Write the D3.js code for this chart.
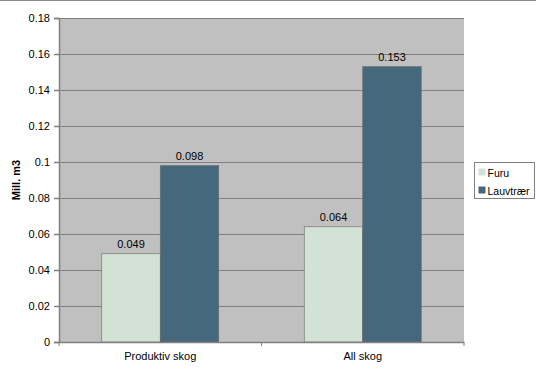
<!DOCTYPE html>
<html>
<head>
<meta charset="utf-8">
<script src="https://cdn.jsdelivr.net/npm/d3@7"></script>
<style>
  body { margin: 0; background: #fff; }
  text { font-family: "Liberation Sans", Arial, sans-serif; font-size: 11px; fill: #000; }
</style>
</head>
<body>
<div id="chart"></div>
<script>
var categories = ["Produktiv skog", "All skog"];
var seriesNames = ["Furu", "Lauvtrær"];
var furu = [0.049, 0.064];
var lauvtraer = [0.098, 0.153];
var yTicks = [0, 0.02, 0.04, 0.06, 0.08, 0.1, 0.12, 0.14, 0.16, 0.18];
var colors = ["#d2e2d4", "#46687c"];

var svgWidth = 536;
var svgHeight = 376;
var margin = { top: 18, right: 72, bottom: 34, left: 59 };
var chartWidth = svgWidth - margin.left - margin.right;
var chartHeight = svgHeight - margin.top - margin.bottom;

var svg = d3.select("#chart").append("svg")
  .attr("width", svgWidth)
  .attr("height", svgHeight);

// top border line
svg.append("line")
  .attr("x1", 0).attr("x2", svgWidth)
  .attr("y1", 0.5).attr("y2", 0.5)
  .attr("stroke", "#8c8c8c");

var chartGroup = svg.append("g")
  .attr("transform", `translate(${margin.left}, ${margin.top})`);

var xScale = d3.scaleBand()
  .domain(categories)
  .range([0, chartWidth]);

var yScale = d3.scaleLinear()
  .domain([0, 0.18])
  .range([chartHeight, 0]);

var inner = d3.scaleBand()
  .domain(seriesNames)
  .range([0, 117]);

// plot background
chartGroup.append("rect")
  .attr("width", chartWidth)
  .attr("height", chartHeight)
  .attr("fill", "#c0c0c0");

// gridlines
chartGroup.append("g")
  .selectAll("line")
  .data(yTicks.slice(1))
  .enter()
  .append("line")
  .attr("x1", 0).attr("x2", chartWidth)
  .attr("y1", d => Math.round(yScale(d)) + 0.5)
  .attr("y2", d => Math.round(yScale(d)) + 0.5)
  .attr("stroke", "#808080")
  .attr("stroke-width", 1.2);

// bars
var rows = categories.map((c, i) => ({ cat: c, values: [furu[i], lauvtraer[i]] }));

var groups = chartGroup.selectAll(".grp")
  .data(rows)
  .enter()
  .append("g")
  .attr("transform", d => `translate(${xScale(d.cat) + (xScale.bandwidth() - 117) / 2}, 0)`);

groups.selectAll("rect")
  .data(d => d.values.map((v, j) => ({ name: seriesNames[j], value: v, color: colors[j] })))
  .enter()
  .append("rect")
  .attr("x", d => inner(d.name))
  .attr("y", d => yScale(d.value))
  .attr("width", inner.bandwidth())
  .attr("height", d => chartHeight - yScale(d.value))
  .attr("fill", d => d.color)
  .attr("stroke", "#6a6a6a")
  .attr("stroke-width", 0.6);

groups.selectAll("text")
  .data(d => d.values.map((v, j) => ({ name: seriesNames[j], value: v })))
  .enter()
  .append("text")
  .attr("x", d => inner(d.name) + inner.bandwidth() / 2)
  .attr("y", d => yScale(d.value) - 6)
  .attr("text-anchor", "middle")
  .text(d => String(d.value));

// axes
var leftAxis = d3.axisLeft(yScale)
  .tickValues(yTicks)
  .tickFormat(d => String(+d.toFixed(2)))
  .tickSize(5)
  .tickPadding(4);

var yAxis = chartGroup.append("g").call(leftAxis);
yAxis.select(".domain").attr("stroke", "#808080").attr("stroke-width", 1.5);
yAxis.selectAll(".tick line").attr("stroke", "#808080").attr("stroke-width", 1.5);
yAxis.selectAll("text").style("font-size", "11px").attr("fill", "#000");

var bottomAxis = d3.axisBottom(xScale).tickSize(0).tickPadding(10);
var xAxis = chartGroup.append("g")
  .attr("transform", `translate(0, ${chartHeight})`)
  .call(bottomAxis);
xAxis.select(".domain").attr("stroke", "#808080").attr("stroke-width", 1.5);
xAxis.selectAll("text").style("font-size", "11px").attr("fill", "#000");

// category boundary ticks on x axis
xAxis.selectAll(".sep")
  .data([0, chartWidth / 2, chartWidth])
  .enter()
  .append("line")
  .attr("x1", d => d).attr("x2", d => d)
  .attr("y1", 0).attr("y2", 4)
  .attr("stroke", "#808080");

// y axis title
svg.append("text")
  .attr("transform", `translate(20, ${margin.top + chartHeight / 2}) rotate(-90)`)
  .attr("text-anchor", "middle")
  .style("font-weight", "bold")
  .text("Mill. m3");

// legend
var legend = svg.append("g").attr("transform", "translate(474.5, 162.5)");
legend.append("rect")
  .attr("width", 60).attr("height", 36)
  .attr("fill", "#fff")
  .attr("stroke", "#808080");

var items = legend.selectAll(".item")
  .data(seriesNames)
  .enter()
  .append("g")
  .attr("transform", (d, i) => `translate(4, ${10 + i * 18})`);

items.append("rect")
  .attr("x", 0).attr("y", -4)
  .attr("width", 7).attr("height", 7)
  .attr("fill", (d, i) => colors[i]);

items.append("text")
  .attr("x", 9).attr("y", 4)
  .style("font-size", "10.5px")
  .text(d => d);
</script>
</body>
</html>
